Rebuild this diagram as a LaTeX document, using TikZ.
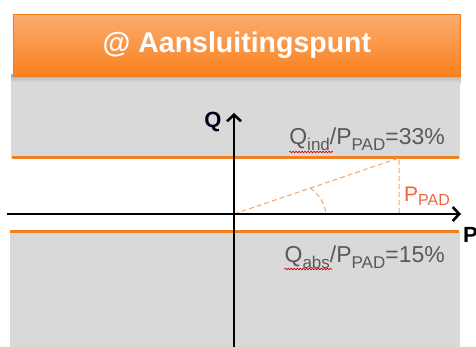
\documentclass[tikz,border=0pt]{standalone}
\usepackage{fontspec}
\setmainfont{Liberation Sans}
\usetikzlibrary{arrows.meta,decorations.pathmorphing,calc}
\definecolor{bandgray}{RGB}{217,217,217}
\definecolor{lineorange}{RGB}{240,128,32}
\definecolor{dashorange}{RGB}{244,164,100}
\definecolor{txtgray}{RGB}{89,89,89}
\definecolor{ppadred}{RGB}{240,100,60}
\definecolor{hdrtop}{RGB}{252,172,112}
\definecolor{hdrbot}{RGB}{249,128,28}
\definecolor{hdrborder}{RGB}{240,125,30}
\tikzset{
  band/.style={fill=bandgray,draw=none},
  limitline/.style={draw=lineorange,line width=3pt},
  axis/.style={draw=black,line width=2.6pt,-{Straight Barb[length=6.5pt,width=14pt,line width=2.6pt]}},
  helper/.style={draw=dashorange,line width=1pt,dash pattern=on 5pt off 3pt},
  ratio/.style={text=txtgray,inner sep=0pt,font=\fontsize{23}{23}\selectfont},
  axlabel/.style={inner sep=0pt,font=\fontsize{22}{22}\selectfont\bfseries},
  squiggle/.style={draw=red!80!black,line width=0.6pt,decorate,decoration={snake,amplitude=0.8pt,segment length=3pt}}
}
\newcommand{\sbs}[1]{\raisebox{-6pt}{\fontsize{17}{17}\selectfont #1}}
\begin{document}
\begin{tikzpicture}[x=1pt,y=-1pt]
\useasboundingbox (0,0) rectangle (476,347);
% shadow and gray bands
\shade[top color=black!30,bottom color=black!12] (11,75) rectangle (461,84);
\fill[band] (11,82) rectangle (460,158);
\fill[band] (10,232) rectangle (460,347);
% header
\node[draw=hdrborder,line width=0.8pt,top color=hdrtop,bottom color=hdrbot,
      minimum width=447pt,minimum height=62pt,inner sep=0pt,anchor=north west,
      text=white,font=\fontsize{28.5}{28.5}\selectfont\bfseries] (hdr) at (13,14) {@ Aansluitingspunt};
% limit lines
\coordinate (ul) at (12,157.5);
\coordinate (ur) at (459,157.5);
\coordinate (ll) at (10,232);
\coordinate (lr) at (459,232);
\draw[limitline] (ul) -- (ur);
\draw[limitline] (ll) -- (lr);
% helper triangle
\coordinate (o) at (234,214);
\coordinate (c) at (399,158);
\coordinate (f) at (399,214);
\coordinate (a1) at (310,188);
\coordinate (a2) at (326,214);
\draw[helper] (o) -- (c) -- (f);
\draw[helper] (a1) .. controls (319,194) and (325,204) .. (a2);
% axes
\coordinate (xs) at (7,214);
\coordinate (xe) at (461,214);
\coordinate (ys) at (234,347);
\coordinate (ye) at (234,113);
\draw[axis] (xs) -- (xe);
\draw[axis] (ys) -- (ye);
% labels
\node[axlabel,text=black!90!blue] (qlab) at (213,122) {Q};
\node[axlabel,anchor=west] (plab) at (463,235) {P};
\node[inner sep=0pt,anchor=base west,text=ppadred,font=\fontsize{21}{21}\selectfont] (ppad) at (404,202) {P\raisebox{-4pt}{\fontsize{16}{16}\selectfont PAD}};
\node[ratio,anchor=base east] (qind) at (445,145) {Q\sbs{ind}/P\sbs{PAD}=33\%};
\node[ratio,anchor=base east] (qabs) at (445,262) {Q\sbs{abs}/P\sbs{PAD}=15\%};
\draw[squiggle] ($(qind.base west)+(0,7)$) -- ++(44,0);
\draw[squiggle] ($(qabs.base west)+(0,7)$) -- ++(48,0);
\end{tikzpicture}
\end{document}
